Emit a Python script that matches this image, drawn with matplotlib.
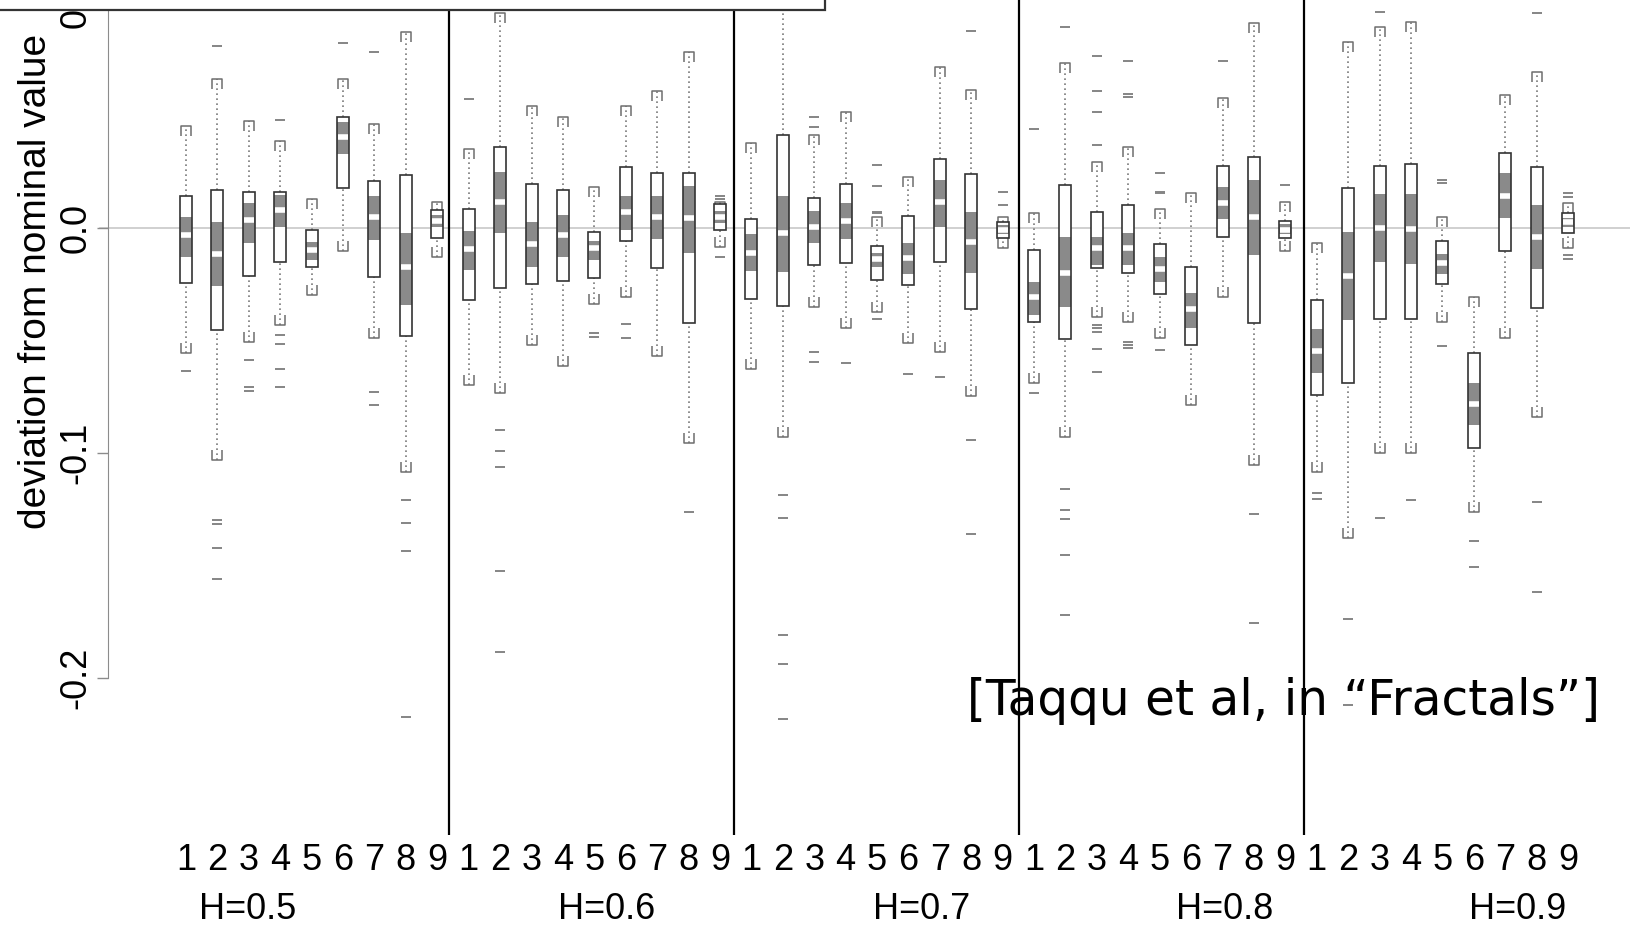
import numpy as np
import matplotlib
matplotlib.use("Agg")
import matplotlib.pyplot as plt
from matplotlib.path import Path
from matplotlib.patches import Rectangle

plt.rcParams["font.family"] = ["Liberation Sans", "DejaVu Sans"]

hurst = ["H=0.5", "H=0.6", "H=0.7", "H=0.8", "H=0.9"]
estimators = [str(k) for k in range(1, 10)]

# one row per H, one column per estimator
whisk_hi = [
    [0.0452, 0.0660, 0.0476, 0.0385, 0.0126, 0.0660, 0.0461, 0.0868, 0.0116],
    [0.0348, 0.0953, 0.0541, 0.0493, 0.0182, 0.0541, 0.0609, 0.0782, 0.0116],
    [0.0378, 0.1100, 0.0412, 0.0516, 0.0046, 0.0227, 0.0716, 0.0612, 0.0049],
    [0.0064, 0.0731, 0.0293, 0.0360, 0.0082, 0.0153, 0.0575, 0.0908, 0.0116],
    [-0.0067, 0.0827, 0.0893, 0.0916, 0.0049, -0.0307, 0.0590, 0.0693, 0.0108],
]
q3 = [
    [0.0141, 0.0168, 0.0160, 0.0160, -0.0010, 0.0490, 0.0209, 0.0234, 0.0079],
    [0.0083, 0.0360, 0.0194, 0.0168, -0.0018, 0.0271, 0.0242, 0.0242, 0.0105],
    [0.0037, 0.0412, 0.0131, 0.0193, -0.0081, 0.0052, 0.0304, 0.0237, 0.0027],
    [-0.0099, 0.0190, 0.0071, 0.0101, -0.0072, -0.0173, 0.0274, 0.0313, 0.0031],
    [-0.0321, 0.0178, 0.0274, 0.0283, -0.0058, -0.0556, 0.0334, 0.0271, 0.0064],
]
ci_hi = [
    [0.0048, 0.0027, 0.0111, 0.0145, -0.0062, 0.0471, 0.0141, -0.0025, 0.0055],
    [-0.0013, 0.0249, 0.0027, 0.0056, -0.0058, 0.0141, 0.0141, 0.0187, 0.0075],
    [-0.0028, 0.0141, 0.0076, 0.0111, -0.0114, -0.0069, 0.0212, 0.0071, 0.0012],
    [-0.0240, -0.0043, -0.0043, -0.0025, -0.0129, -0.0289, 0.0182, 0.0212, 0.0015],
    [-0.0452, -0.0021, 0.0150, 0.0150, -0.0117, -0.0689, 0.0244, 0.0101, 0.0045],
]
median = [
    [-0.0032, -0.0117, 0.0034, 0.0079, -0.0098, 0.0404, 0.0049, -0.0173, 0.0030],
    [-0.0096, 0.0116, -0.0072, -0.0032, -0.0092, 0.0071, 0.0049, 0.0042, 0.0049],
    [-0.0114, -0.0025, 0.0002, 0.0031, -0.0140, -0.0136, 0.0113, -0.0065, -0.0010],
    [-0.0307, -0.0200, -0.0092, -0.0092, -0.0185, -0.0363, 0.0111, 0.0049, -0.0010],
    [-0.0547, -0.0215, -0.0003, -0.0007, -0.0158, -0.0784, 0.0141, -0.0040, 0.0027],
]
ci_lo = [
    [-0.0130, -0.0259, -0.0067, 0.0004, -0.0144, 0.0328, -0.0055, -0.0344, 0.0005],
    [-0.0188, -0.0025, -0.0173, -0.0129, -0.0144, -0.0010, -0.0052, -0.0114, 0.0020],
    [-0.0191, -0.0195, -0.0067, -0.0052, -0.0173, -0.0206, 0.0004, -0.0200, -0.0030],
    [-0.0388, -0.0354, -0.0166, -0.0166, -0.0240, -0.0447, 0.0037, -0.0121, -0.0030],
    [-0.0644, -0.0410, -0.0151, -0.0161, -0.0206, -0.0877, 0.0042, -0.0185, 0.0005],
]
q1 = [
    [-0.0245, -0.0455, -0.0215, -0.0151, -0.0173, 0.0175, -0.0220, -0.0481, -0.0047],
    [-0.0321, -0.0269, -0.0250, -0.0236, -0.0225, -0.0059, -0.0180, -0.0422, -0.0010],
    [-0.0318, -0.0348, -0.0166, -0.0158, -0.0232, -0.0255, -0.0151, -0.0363, -0.0047],
    [-0.0418, -0.0496, -0.0180, -0.0200, -0.0295, -0.0521, -0.0043, -0.0422, -0.0047],
    [-0.0744, -0.0689, -0.0407, -0.0407, -0.0250, -0.0980, -0.0102, -0.0358, -0.0025],
]
whisk_lo = [
    [-0.0555, -0.1032, -0.0507, -0.0432, -0.0299, -0.0102, -0.0492, -0.1084, -0.0129],
    [-0.0699, -0.0736, -0.0521, -0.0615, -0.0339, -0.0307, -0.0570, -0.0958, -0.0084],
    [-0.0629, -0.0929, -0.0354, -0.0447, -0.0374, -0.0514, -0.0551, -0.0748, -0.0090],
    [-0.0692, -0.0929, -0.0395, -0.0418, -0.0492, -0.0788, -0.0307, -0.1055, -0.0102],
    [-0.1084, -0.1380, -0.1003, -0.1003, -0.0418, -0.1262, -0.0492, -0.0843, -0.0092],
]
outliers = [
    [[-0.0637], [0.0808, -0.1300, -0.1316, -0.1422, -0.1563], [-0.0588, -0.0709, -0.0724],
     [0.0479, -0.0477, -0.0518, -0.0628, -0.0707], [], [0.0822], [0.0782, -0.0729, -0.0788],
     [-0.1210, -0.1314, -0.1437, -0.2176], []],
    [[0.0571], [-0.0899, -0.0993, -0.1065, -0.1526, -0.1884], [], [], [-0.0469, -0.0484],
     [-0.0428, -0.0492], [], [-0.1265], [0.0141, 0.0126, -0.0129]],
    [[], [-0.1188, -0.1289, -0.1810, -0.1939, -0.2184], [0.0490, 0.0446, -0.0554, -0.0596],
     [-0.0600], [0.0279, 0.0187, 0.0071, 0.0066, -0.0407], [-0.0650], [-0.0665],
     [0.0874, -0.0944, -0.1363], [0.0160, 0.0101]],
    [[0.0437, -0.0736], [0.0891, -0.1163, -0.1255, -0.1296, -0.1455, -0.1721],
     [0.0763, 0.0609, 0.0516, 0.0368, -0.0432, -0.0447, -0.0462, -0.0540, -0.0640],
     [0.0742, 0.0594, 0.0579, -0.0507, -0.0521, -0.0536], [0.0242, 0.0160, 0.0155, -0.0544],
     [], [0.0742], [-0.1274, -0.1758], [0.0190]],
    [[-0.1180, -0.1207], [-0.1740, -0.2120], [0.0960, -0.1292], [-0.1210],
     [0.0212, 0.0200, -0.0526], [-0.1392, -0.1509], [], [0.0953, -0.1220, -0.1619],
     [0.0156, 0.0138, -0.0121, -0.0140]],
]

hi = np.ravel(whisk_hi)
up = np.ravel(q3)
nhi = np.ravel(ci_hi)
med = np.ravel(median)
nlo = np.ravel(ci_lo)
lo = np.ravel(q1)
wlo = np.ravel(whisk_lo)
pos = np.arange(1, len(med) + 1)

fig = plt.figure(figsize=(16.3, 9.27), dpi=100)
ax = fig.add_axes([0, 92 / 927, 1, 835 / 927])
ax.set_xlim(-4.922, 46.973)
ax.set_ylim(-0.26991, 0.1012)

# R style axis: only the left one, clipped to the tick range
for side in ["top", "right", "bottom"]:
    ax.spines[side].set_visible(False)
ax.spines["left"].set_position(("data", -1.483))
ax.spines["left"].set_bounds(-0.2, 0.1)
ax.spines["left"].set_color("#8c8c8c")
ax.set_yticks([-0.2, -0.1, 0.0, 0.1], labels=["-0.2", "-0.1", "0.0", "0.1"])
ax.tick_params(axis="y", length=8, width=1, color="#8c8c8c", labelsize=26,
               labelrotation=90, pad=2.5)
for lab in ax.get_yticklabels():
    lab.set_va("center")
ax.set_xticks(pos, labels=estimators * len(hurst))
ax.tick_params(axis="x", length=0, labelsize=26, pad=5.5)
ax.set_ylabel("deviation from nominal value", fontsize=28, va="center")
ax.yaxis.set_label_coords(36 / 1630, 0.6635)

ax.axhline(0, xmin=100 / 1630, color="#c8c8c8", lw=1.2, zorder=1)
for sep in [9.37, 18.44, 27.52, 36.59]:
    ax.axvline(sep, color="black", lw=1.6, zorder=1)

# dotted whiskers with bracket caps
ax.vlines(pos, up, hi, colors="#7a7a7a", lw=1.2, linestyles=(0, (1, 2)), zorder=2)
ax.vlines(pos, wlo, lo, colors="#7a7a7a", lw=1.2, linestyles=(0, (1, 2)), zorder=2)
codes = [Path.MOVETO, Path.LINETO, Path.LINETO, Path.LINETO]
cap_top = Path([(-1, -2), (-1, 0), (1, 0), (1, -2)], codes)
cap_bot = Path([(-1, 2), (-1, 0), (1, 0), (1, 2)], codes)
ax.plot(pos, hi, ls="none", marker=cap_top, ms=14.4, mfc="none", mec="#6e6e6e",
        mew=1.1, zorder=3)
ax.plot(pos, wlo, ls="none", marker=cap_bot, ms=14.4, mfc="none", mec="#6e6e6e",
        mew=1.1, zorder=3)

# boxes: white body, grey band round the median, white median line
w = 0.382
ax.bar(pos, up - lo, bottom=lo, width=w, color="white", edgecolor="none", zorder=3)
ax.bar(pos, nhi - nlo, bottom=nlo, width=w, color="#8a8a8a", edgecolor="none", zorder=4)
ax.hlines(med, pos - w / 2 + 0.03, pos + w / 2 - 0.03, colors="white", lw=4, zorder=5)
ax.bar(pos, up - lo, bottom=lo, width=w, fill=False, edgecolor="#333333", lw=1.2, zorder=6)

ox, oy = [], []
for p, vals in zip(pos, [v for row in outliers for v in row]):
    ox += [p] * len(vals)
    oy += vals
ax.plot(ox, oy, ls="none", marker="_", ms=7, mew=1.4, color="#858585", zorder=3)

for label, xc in zip(hurst, [248, 607, 922, 1225, 1518]):
    fig.text(xc / 1630, 1 - 919 / 927, label, fontsize=26, ha="center", va="baseline")

# box left over from the legend at the top
ax.add_patch(Rectangle((-0.01, 1 - 9.5 / 835), 825 / 1630 + 0.01, 0.05,
                       transform=ax.transAxes, facecolor="white", edgecolor="#333333",
                       lw=1.6, clip_on=False, zorder=10))

fig.text(967 / 1630, 1 - 715 / 927, "[Taqqu et al, in \u201cFractals\u201d]",
         family="DejaVu Sans", fontsize=35, ha="left", va="baseline")

fig.savefig("out.png", dpi=100)
